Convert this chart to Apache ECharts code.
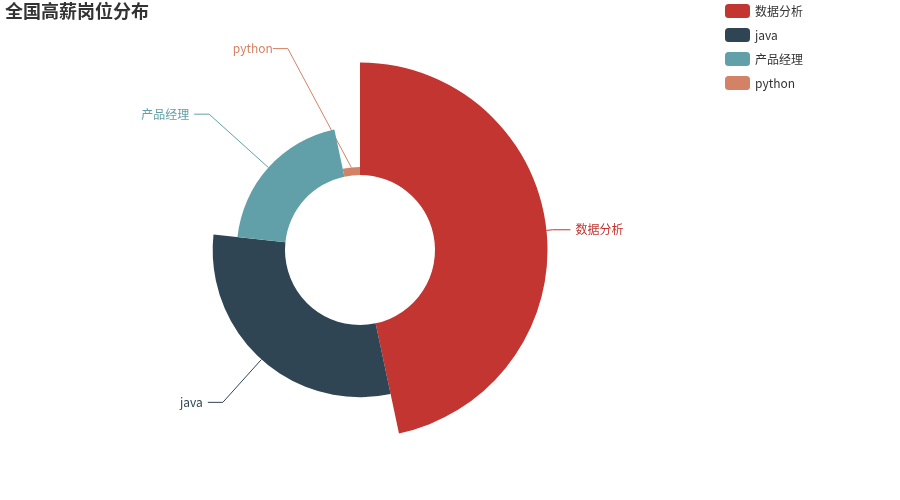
<!DOCTYPE html>
<html>
<head>
<meta charset="utf-8">
<script src="https://cdn.jsdelivr.net/npm/echarts@6/dist/echarts.min.js"></script>
<style>html,body{margin:0;padding:0;background:#fff}#main{width:900px;height:500px}</style>
</head>
<body>
<div id="main"></div>
<script>
var titleText = '全国高薪岗位分布';
var categories = ['数据分析', 'java', '产品经理', 'python'];
var values = [14, 9, 6, 1];
var colors = ['#c23531', '#2f4554', '#61a0a8', '#d48265'];
var lineLen = [6, 17.5, 15.5, 15];
var lineLen2 = [18, 15, 15, 15];

var font = '"Microsoft YaHei", "Noto Sans CJK SC", sans-serif';
var chart = echarts.init(document.getElementById('main'), null, {renderer: 'canvas'});
chart.setOption({
  animation: false,
  color: colors,
  textStyle: {fontFamily: font},
  title: {
    text: titleText, left: 0, top: 0, padding: [2, 5],
    textStyle: {fontSize: 18, fontWeight: 'bold', color: '#333', fontFamily: font}
  },
  legend: {
    orient: 'vertical', left: '80%', top: -1, padding: 5,
    itemWidth: 25, itemHeight: 14, itemGap: 10, icon: 'roundRect',
    textStyle: {fontSize: 12, color: '#333', fontFamily: font},
    data: categories
  },
  series: [{
    type: 'pie',
    roseType: 'radius',
    center: ['40%', '50%'],
    radius: ['30%', '75%'],
    avoidLabelOverlap: false,
    label: {show: true, position: 'outside', color: 'inherit', fontSize: 12, fontFamily: font},
    labelLine: {show: true, smooth: false},
    labelLayout: function (params) {
      // the smallest slice's label is pushed outward and to the left, as in the reference
      if (params.dataIndex === values.length - 1) {
        var r = params.labelRect;
        return {x: r.x - 42, y: r.y + r.height / 2, align: 'left', verticalAlign: 'middle'};
      }
    },
    data: categories.map(function (c, i) {
      var item = {
        name: c, value: values[i],
        itemStyle: {color: colors[i]},
        labelLine: {length: lineLen[i], length2: lineLen2[i]}
      };
      if (i === values.length - 1) item.label = {padding: [0, 4, 0, 0]};
      return item;
    })
  }]
});
</script>
</body>
</html>
